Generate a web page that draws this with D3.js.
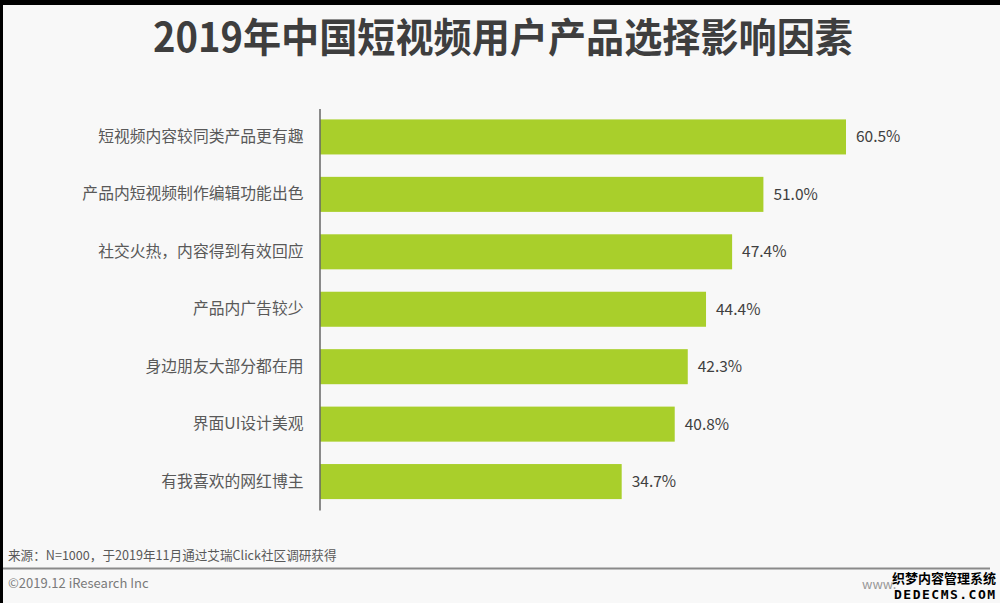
<!DOCTYPE html>
<html><head><meta charset="utf-8">
<script src="https://cdn.jsdelivr.net/npm/d3@7"></script>
<style>
html,body{margin:0;padding:0;background:#000;}
svg{display:block;font-family:"Noto Sans CJK SC","Noto Sans",sans-serif;}
</style></head>
<body>
<svg id="chart" width="1000" height="603"></svg>
<script>
const categories = ["短视频内容较同类产品更有趣","产品内短视频制作编辑功能出色","社交火热，内容得到有效回应","产品内广告较少","身边朋友大部分都在用","界面UI设计美观","有我喜欢的网红博主"];
const values = [60.5, 51.0, 47.4, 44.4, 42.3, 40.8, 34.7];
const valueLabels = ["60.5%","51.0%","47.4%","44.4%","42.3%","40.8%","34.7%"];
const titleText = "2019年中国短视频用户产品选择影响因素";
const sourceText = "来源：N=1000，于2019年11月通过艾瑞Click社区调研获得";
const copyrightText = "©2019.12 iResearch Inc";

const svg = d3.select("#chart");
svg.append("rect").attr("x",0).attr("y",0).attr("width",1000).attr("height",603).attr("fill","#000");
svg.append("rect").attr("x",3).attr("y",5).attr("width",997).attr("height",598).attr("fill","#f8f8f8");

svg.append("text").attr("x",503).attr("y",52).attr("text-anchor","middle")
  .attr("font-size",40).attr("font-weight","bold").attr("fill","#3e3e3e")
  .attr("textLength",700).attr("lengthAdjust","spacingAndGlyphs").text(titleText);

const x = d3.scaleLinear().domain([0, 60.5]).range([320, 846]);
const y = d3.scaleBand().domain(categories).range([108.5, 510]).paddingInner(0.39).paddingOuter(0.19);

svg.selectAll("rect.bar").data(values).enter().append("rect").attr("class","bar")
  .attr("x", x(0)).attr("y",(d,i)=>y(categories[i]))
  .attr("width", d=>x(d)-x(0)).attr("height", y.bandwidth())
  .attr("fill","#a9cf2b");

const yAxis = d3.axisLeft(y).tickSize(0).tickPadding(16);
const ga = svg.append("g").attr("transform","translate(319.5,0)").call(yAxis);
ga.select(".domain").attr("stroke","#666").attr("stroke-width",1.5);
ga.selectAll("text").attr("font-size",15.8).attr("fill","#595959")
  .attr("font-family","Noto Sans CJK SC, sans-serif");

svg.selectAll("text.val").data(values).enter().append("text").attr("class","val")
  .attr("x", d=>x(d)+10).attr("y",(d,i)=>y(categories[i])+y.bandwidth()/2)
  .attr("dy","0.35em").attr("font-size",15.5).attr("fill","#404040")
  .text((d,i)=>valueLabels[i]);

svg.append("text").attr("x",8).attr("y",560).attr("font-size",12.6).attr("fill","#595959").text(sourceText);
svg.append("line").attr("x1",3).attr("x2",990).attr("y1",568.5).attr("y2",568.5).attr("stroke","#8a8a8a").attr("stroke-width",2);
svg.append("text").attr("x",8).attr("y",588).attr("font-size",13).attr("fill","#7a7a7a").text(copyrightText);
svg.append("text").attr("x",862).attr("y",589).attr("font-size",13).attr("fill","#999").text("www.");
svg.append("text").attr("x",892).attr("y",583).attr("font-size",13).attr("font-weight","bold").attr("fill","#000")
  .attr("stroke","#fff").attr("stroke-width",0.6).attr("paint-order","stroke").text("织梦内容管理系统");
svg.append("text").attr("x",894).attr("y",599).attr("font-size",13).attr("font-weight","bold").attr("fill","#000")
  .attr("letter-spacing",1.5).attr("font-family","DejaVu Sans Mono, monospace").text("DEDECMS.COM");
</script>
</body></html>
